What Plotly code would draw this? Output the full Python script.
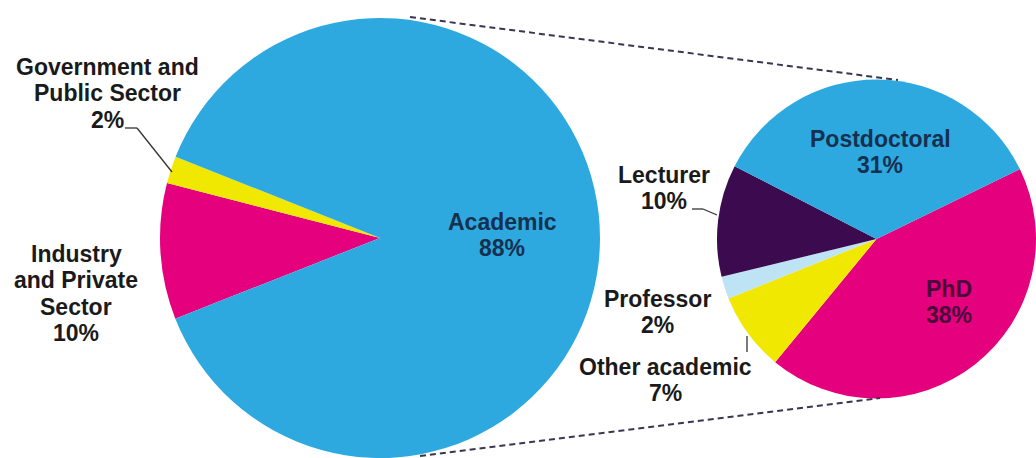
import plotly.graph_objects as go

# ---------------- data ----------------
overall_categories = ["Industry and Private Sector", "Government and Public Sector", "Academic"]
overall_pct = [10, 2, 88]
overall_colors = ["#E5007E", "#F0E800", "#2DA9E0"]

academic_categories = ["PhD", "Other academic", "Professor", "Lecturer", "Postdoctoral"]
academic_pct = [38, 7, 2, 10, 31]
academic_colors = ["#E5007E", "#F0E800", "#BEE3F4", "#3B0A4F", "#2DA9E0"]

# how the category names are wrapped in the labels
label_lines = {
    "Industry and Private Sector": ["Industry", "and Private", "Sector"],
    "Government and Public Sector": ["Government and", "Public Sector"],
    "Academic": ["Academic"],
    "PhD": ["PhD"],
    "Other academic": ["Other academic"],
    "Professor": ["Professor"],
    "Lecturer": ["Lecturer"],
    "Postdoctoral": ["Postdoctoral"],
}

W, H = 1036, 458
FONT = "Liberation Sans, Arial, sans-serif"
FS = 23
LINE = 26.3


def px(x):
    return x / W


def py(y):
    return (H - y) / H


fig = go.Figure()

# big pie: centre (380, 238), radius 220
fig.add_trace(go.Pie(
    labels=overall_categories, values=overall_pct,
    marker=dict(colors=overall_colors, line=dict(width=0)),
    sort=False, direction="clockwise", rotation=-111.5,
    textinfo="none", hoverinfo="label+percent",
    domain=dict(x=[px(160), px(600)], y=[0, 440 / H]),
))

# small pie: right-hand breakdown of the academic sector
fig.add_trace(go.Pie(
    labels=academic_categories, values=academic_pct,
    marker=dict(colors=academic_colors, line=dict(width=0)),
    sort=False, direction="clockwise", rotation=64,
    textinfo="none", hoverinfo="label+value",
    domain=dict(x=[px(717), 1], y=[(219 - 159.5) / H, (219 + 159.5) / H]),
))

ov = dict(zip(overall_categories, overall_pct))
ac = dict(zip(academic_categories, academic_pct))

# label placement: (category, centre x, first baseline y, text colour, values)
placements = [
    ("Government and Public Sector", 107, 75, "#1a1a1a", ov),
    ("Industry and Private Sector", 76, 262, "#1a1a1a", ov),
    ("Academic", 502, 230, "#16304F", ov),
    ("Postdoctoral", 880, 147, "#16304F", ac),
    ("PhD", 949, 297, "#4A0838", ac),
    ("Lecturer", 664, 183, "#1a1a1a", ac),
    ("Professor", 657, 307, "#1a1a1a", ac),
    ("Other academic", 665, 375, "#1a1a1a", ac),
]

annotations = []
for cat, cx, base, col, lookup in placements:
    lines = label_lines[cat] + [f"{lookup[cat]}%"]
    for i, t in enumerate(lines):
        annotations.append(dict(
            x=px(cx), y=py(base + i * LINE - 8), xref="paper", yref="paper",
            text=f"<b>{t}</b>", showarrow=False, xanchor="center", yanchor="middle",
            font=dict(family=FONT, size=FS, color=col),
        ))

shapes = []


def seg(x0, y0, x1, y1, color="#333333", width=1.3, dash=None):
    d = dict(type="line", xref="paper", yref="paper",
             x0=px(x0), y0=py(y0), x1=px(x1), y1=py(y1),
             line=dict(color=color, width=width))
    if dash:
        d["line"]["dash"] = dash
    shapes.append(d)


# connector lines
seg(125, 128, 137, 128)
seg(137, 128, 172, 172)
seg(692, 209, 703, 209)
seg(703, 209, 717, 215)
seg(747, 336, 747, 352)

# dashed "zoom" lines between pies
seg(410, 17, 898, 80, color="#3C3550", width=2, dash="6px,4px")
seg(420, 456, 880, 398, color="#3C3550", width=2, dash="6px,4px")

fig.update_layout(
    width=W, height=H,
    margin=dict(l=0, r=0, t=0, b=0),
    paper_bgcolor="white", plot_bgcolor="white",
    showlegend=False,
    annotations=annotations,
    shapes=shapes,
)

fig.write_html(
    "out.html",
    config={"displayModeBar": False},
    post_script="document.body.style.margin='0px';document.body.style.overflow='hidden';",
)
